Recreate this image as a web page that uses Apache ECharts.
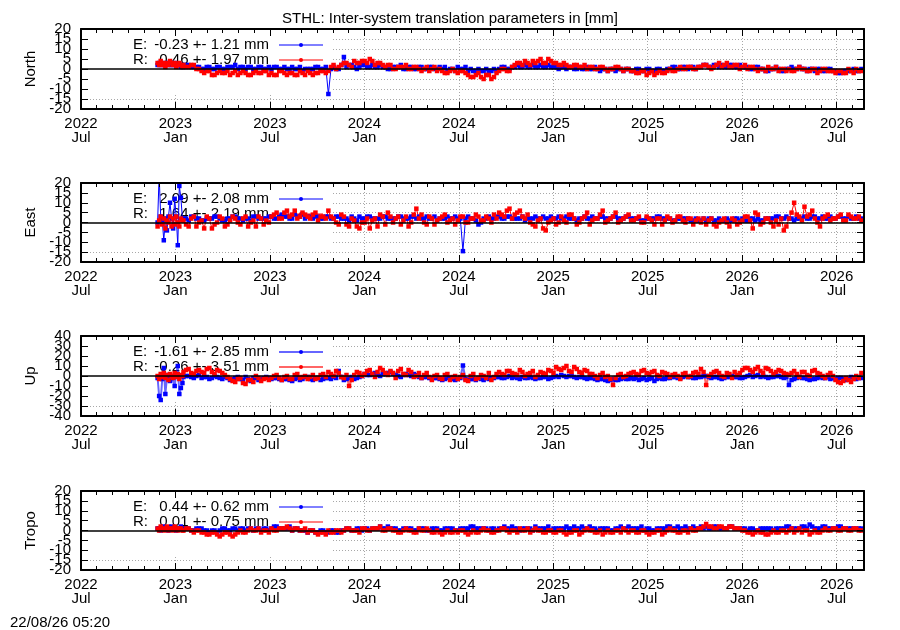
<!DOCTYPE html>
<html><head><meta charset="utf-8">
<script src="https://cdn.jsdelivr.net/npm/echarts@6/dist/echarts.min.js"></script>
<style>html,body{margin:0;padding:0;background:#fff}#c{width:900px;height:630px}</style>
</head><body><div id="c"></div>
<script>
// ---------- text ----------
const titleText = 'STHL: Inter-system translation parameters in [mm]';
const stampText = '22/08/26 05:20';
const panelNames = ['North', 'East', 'Up', 'Tropo'];
const yMins = [-20, -20, -40, -20];
const yMaxs = [20, 20, 40, 20];
const yStep = [5, 5, 10, 5];
const legendE = ['-0.23 +- 1.21 mm', '2.09 +- 2.08 mm', '-1.61 +- 2.85 mm', '0.44 +- 0.62 mm'];
const legendR = ['0.46 +- 1.97 mm', '1.64 +- 2.19 mm', '-0.26 +- 3.51 mm', '0.01 +- 0.75 mm'];
const monthNames = ['Jan','Feb','Mar','Apr','May','Jun','Jul','Aug','Sep','Oct','Nov','Dec'];

// x axis: days since 2022-07-01; ticks every half year
const xMinDay = 0;
const xMaxDay = 1513;      // 2026-08-22
const xTickDays = 182.5;
// sampling: dense start (every 3 days from 2022-11-26), then main samples every 10 days
// starting at day 198, plus "mid" samples 5 days after each main sample
const earlyStartDay = 148, earlyStepDays = 3;
const mainStartDay = 198, mainStepDays = 10, midOffsetDays = 5;

// ---------- values (mm) ----------
const northE_early = [2,3,2,3,2,2,3,2,3,2,2,3,2,2,2,1,2];
const northE = [1,2,1,1, 0,1,0,1,0,1,2,1,0,1,0,1,0, 0,1,0,0,1,0,-1,0,0,1,0, -12.5,1,0,6,2,1,1, 2,1,1,2,
  1,0,1,2,0,1,0,1,0,1,0, 0,-1,0,1,0, -1,-1,0,-1,-1,0, 0,1,0, 1,1,2,1,1,2,1,1, 1,1,0,1,0,0,1,0,
  0,0,-1,0,0,-1,0, -1,0,-1,0,-1,0,-1, 0,1,0,1,1,0, 1,2,1,2,2,1,2,1,1, 1,0,1,0,-1,0,0,-1,
  0,0,1,0,0,-1,0,-1,0, -1,-2,-1,-1,-1,0];
const northE_mid = [2,1,1,0, 1,0,1,0,1,1,0,1,1,0,1,0,1, 1,0,1,0,0,1,0,0,1,0,1, 0,0,2,1,2,0,2, 1,2,1,1,
  0,1,1,0,1,0,1,0,1,0,1, 1,0,-1,0,1, 0,-1,-1,0,-1,-1, 1,0,1, 2,1,1,2,1,1,2,1, 0,1,1,0,1,0,0,1,
  -1,0,0,-1,0,0,-1, 0,-1,0,-1,0,-1,0, 1,0,1,0,1,1, 2,1,2,1,1,2,1,2,1, 0,1,0,-1,0,1,-1,0,
  1,0,0,-1,0,0,-1,0,-1, -2,-1,-1,0,-1];
const northR_early = [3,2,4,2,3,1,3,2,4,3,2,3,1,2,3,2,1];
const northR = [2,1,2,0, -2,-1,-3,-1,-2,-3,-1,-2,-2,-3,-1,-2,-1, -2,-3,-1,-3,-2,-3,-2,-1,-3,-2,-1, -1,2,1,3,2,4,3, 4,5,2,3,
  1,2,0,1,2,0,1,-1,1,0,-1, -1,-2,0,-2,-1, -3,-4,-2,-5,-3,-4, -1,0,-1, 2,3,4,2,3,5,3,4, 3,2,2,1,2,1,0,1,
  0,1,-1,0,1,-1,0, -1,-2,-1,-2,-3,-1,-2, 0,-1,1,0,1,0, 1,2,0,2,1,3,1,2,1, 0,1,-1,0,1,0,-1,0,
  0,-1,1,0,-1,0,-1,0,-1, -2,-1,-2,-1,0,-1];
const northR_mid = [1,2,0,-1, -1,-3,-2,-2,-1,-2,-3,-1,-3,-2,-2,-1,-3, -3,-1,-2,-2,-3,-1,-3,-2,-2,-1,-2, 1,0,2,3,1,3,4, 3,4,3,2,
  2,0,1,1,0,1,0,0,-1,1,0, -2,-1,-1,-1,-2, -4,-3,-4,-3,-5,-2, 0,-1,1, 3,2,3,4,4,3,5,3, 2,3,1,2,1,2,1,0,
  1,0,0,1,0,0,-1, -2,-1,-3,-1,-2,-2,-1, -1,0,0,1,0,1, 2,1,1,3,2,1,2,0,2, 1,0,0,-1,0,1,0,-1,
  -1,0,0,-1,0,-2,0,-1,-1, -1,-2,0,-2,-1];

const eastE_early = [0,24,3,1,-9,2,-4,3,10,2,-3,12,3,-11.5,18.5,12.5,2];
const eastE = [2,1,3,2,1,2,3,2,1,2,3,2,2,1,3,2,2, 3,2,4,3,2,3,4,3,2,3,2, 3,2,3,2,1,2,3,2,3,2,2,3,2,
  2,3,2,3,2,2,3,2,1,2,3,2, 2,-14.5,3,2,-1,2,3,2, 3,2,3,2,2,1,2,3,2,2, 3,2,2,3,2,1,2,2,3,2,
  3,2,3,2,2,3,2,2,1,2, 2,3,2,2,1,2,2,1,2,1, 1,2,1,1,2,1,2,2,1,2, 2,1,2,2,3,2,2,1,2,3,
  2,3,2,2,3,2,3,2,2,3,2];
const eastE_mid = [2,3,2,1,2,2,3,1,2,3,2,1,2,3,2,2,3, 2,3,3,2,4,3,2,3,3,2,3, 2,3,2,2,3,1,2,3,2,2,3,2,2,
  3,2,2,3,3,2,2,3,2,2,2,3, 2,2,2,1,0,2,2,3, 2,3,2,2,3,2,2,2,3,2, 2,3,2,2,2,2,3,2,2,3,
  2,2,3,2,3,2,2,1,2,2, 3,2,2,1,2,2,2,1,1,2, 2,1,2,1,1,2,1,1,2,1, 1,2,2,3,2,3,2,2,2,2,
  3,2,3,2,2,3,2,3,2,2];
const eastR_early = [-2,1,3,-1,2,-3,1,0,3,-2,2,-1,3,0,-2,2,1];
const eastR = [1,-2,3,0,-3,2,-1,3,-2,1,2,-1,3,0,-2,2,1, 3,5,2,6,4,2,5,3,4,1,3, 6,2,-1,3,-2,1,-3, 0,-3,2,4,-1,3,
  2,-1,3,0,7,4,-1,2,1,3,0,2, 1,3,0,2,3,1,2,4, 5,3,7,4,6,2, 0,-2,2,-4,1,-1, 3,0,4,-1,2,5,1,
  2,6,1,3,0,2,4, 1,3,0,2,-1,2,1, 2,1,3,0,2,1, 0,-1,2,-2,1,0,2,-1,1, 3,-3,4,0,2,-2,
  -1,-4,2,10,3,8,4,2,-2,3,1, 2,4,1,3,2,1];
const eastR_mid = [-1,2,-2,1,3,-3,0,2,-1,3,0,2,-2,1,3,-1,0, 4,2,5,3,6,3,4,2,5,3,2, 3,0,4,-1,2,-2,0, 2,1,-2,3,5,0,
  3,1,-2,4,2,0,3,-1,2,4,1,-1, 3,0,2,4,1,3,0,2, 4,6,2,5,3,4, -1,1,-3,0,2,0, 1,4,2,0,3,-1,2,
  4,0,2,5,1,3,1, 2,0,3,1,2,-1,3, 0,3,1,2,-1,2, 2,1,-1,0,2,-2,1,0,3, 1,5,-1,2,0,1,
  2,-2,5,4,1,3,6,0,2,4,2, 3,1,4,2,3];

const upE_early = [-2,-20,-24,-3,8,-18,-2,1,-5,0,-2,-10,2,10,-18,-12,-7];
const upE = [-1,0,-2,1,-1,-3,0,-2,-1,-4,-2,-3,-1,-5,-2,-3,-1, -3,-2,-4,-3,-5,-2,-3,-1,-4,-2,-3, -2,-1,5,-4,-2,-3,-1,
  2,1,3,0,2,4,1,-1,2,0,1, -2,-1,-3,-2,-4,-2,-3, -3,10.5,-4,-3,-2,-4,-3,-2, -1,-2,0,-1,-3,-2,-1,-3,-2,-1,-2,
  0,1,-1,0,-2,-1,-3, -2,-4,-3,-5,-3,-4,-2,-3, -3,-4,-2,-3,-5,-2,-3, -2,-1,-2,0,-1,-2,
  -1,0,-2,-1,-3,-1,0,-1,-2, 0,-1,1,0,-2,-1,0,-2, -9,-3,-1,-2,-4,-3,-1,-2,-3, -3,-2,-4,-1,-3,-2];
const upE_mid = [0,-1,0,-2,-1,-2,-1,-3,-2,-3,-1,-4,-3,-2,-4,-2,-2, -2,-3,-3,-4,-3,-4,-1,-3,-2,-4,-2, -3,-2,-1,-3,-1,-2,0,
  1,2,1,2,3,2,0,1,1,2,-1, -1,-2,-2,-3,-3,-2,-4, -2,-3,-3,-4,-3,-2,-2,-1, -2,-1,-2,-2,-1,-2,-2,-2,-1,-3,-1,
  -1,0,0,-1,-1,-2,-2, -3,-3,-4,-4,-4,-3,-3,-2, -2,-3,-4,-2,-3,-3,-2, -1,-2,-1,-1,-2,-1,
  0,-1,-1,-2,-2,-1,-1,-2,-1, 1,0,-1,-1,-1,0,-1,-1, -4,-2,-2,-3,-3,-2,-2,-1,-2, -2,-3,-3,-2,-2];
const upR_early = [0,-3,2,-1,3,-2,1,-4,2,0,-2,3,-1,2,-3,1,0];
const upR = [4,7,2,6,3,8,2,5,1,-3,-6,-2,-8,-4,0,-5,-2, -2,1,-4,0,-3,2,-1,-3,1,-2,2, 4,0,3,-2,-10,1,3,
  2,6,-1,8,3,5,-2,7,1,4,0, -2,3,-4,1,-3,2,-1, -3,1,-5,2,-2,0,3,-1, 4,1,5,2,6,0,3,-1,4,2,5,
  9,6,10,4,7,3,5, 2,-2,3,0,-9,1,-1,2, 4,1,6,2,5,0,3, -1,2,-3,3,0,4,
  7,-9,2,5,0,3,-2,1,6, 8,4,9,3,7,2,6,3, 1,5,-1,4,0,6,2,-2,3, -4,-7,-2,-6,0,3];
const upR_mid = [6,3,5,4,7,4,6,3,-1,-5,-3,-7,-4,-6,-2,-3,-4, 0,-2,-1,-3,1,-2,0,-1,-3,1,-1, 2,5,-1,1,-4,4,0,
  5,2,4,6,1,3,5,2,6,-1,3, 1,-1,0,-2,1,-4,0, -1,-4,0,-3,1,-2,-4,2, 2,5,3,1,4,2,5,1,3,6,3,
  7,8,5,9,4,6,2, 0,1,-1,-3,-2,2,0,3, 2,5,3,4,1,4,2, 1,0,2,-1,3,2,
  4,0,4,3,-1,2,4,3,8, 6,7,5,8,5,4,5,2, 3,2,4,1,5,3,0,1,0, -6,-5,-4,-3,-2];

const tropoE_early = [1,1,0,1,2,1,1,0,1,2,1,1,0,1,1,2,1];
const tropoE = [1,1,0,1,0,-1,0,0,1,0,1,1,0,1,1,0,1, 1,2,1,1,0,1,0,-1,0,-1,0, -1,0,-1,0,1,0,1,1,0,1,2,1,1,
  1,0,1,1,0,1,0,1,1,0,1,1,0,1,1,2,1,1,0,1, 1,2,1,1,0,1,1,2,1,1,0,1,1,2,1,1,2,1,1,0,
  1,1,0,1,1,2,1,1,0,1,0,1,1,2,1,1,2,1,1,2, 2,1,2,1,1,2,1,1,0,1,0,1,1,0,1,1,2,1,1,2,
  3,1,1,2,1,1,2,1,1,1,1];
const tropoE_mid = [1,0,1,1,0,0,-1,1,0,1,0,1,1,0,1,1,0, 2,1,1,2,1,0,0,0,-1,0,-1, 0,-1,0,1,0,1,0,1,1,1,1,2,1,
  0,1,1,0,1,1,0,1,0,1,1,0,1,1,2,1,1,1,1,0, 1,1,2,1,1,1,0,1,1,2,1,1,1,1,2,1,1,2,1,1,
  1,0,1,2,1,1,1,2,1,0,1,1,2,1,2,1,1,2,1,1, 1,2,1,1,2,1,1,1,1,0,1,1,1,1,1,2,1,1,2,1,
  2,1,2,1,1,2,1,1,1,1];
const tropoR_early = [1,0,2,1,0,1,2,0,1,1,0,2,1,0,1,1,0];
const tropoR = [0,1,-1,0, -1,-2,-1,-3,-1,-2,-2, 0,-1,1,0,-1,0, 1,0,1,2,0,1,0, -1,0,-2,-1,0,-1,0,
  0,1,0,-1,1,0,1,2,0,1, 0,-1,1,0,-1,0,1,-1,0,-2,0,-1, -1,0,-2,0,-1,1,0,-1, 0,1,-1,0,1,0,-1,1,0,-1,0,
  -1,0,-2,-1,0,-1,1,0,-1,-2,0,-1,0,1,-1, 0,-1,0,-2,-1,0,-1,1,0,-1,0,1,0,
  1,3.3,2,1,2,1,2,1,0, -1,-2,0,-1,-2,0,-1,0, 0,-1,1,0,-2,0,-1,1,0, 1,0,1,0,1,0];
const tropoR_mid = [1,0,0,-1, -2,-1,-2,-2,-1,-3,-1, -1,0,0,1,0,-1, 0,1,1,1,1,0,1, 0,-1,-1,-2,-1,0,-1,
  1,0,0,1,0,1,1,0,1,0, -1,0,0,-1,1,0,0,-1,-1,-1,-1,0, 0,-1,-1,-1,0,0,-1,0, 1,0,0,-1,0,1,0,0,-1,0,-1,
  0,-1,-1,0,-2,0,0,-1,0,-1,-1,0,-1,0,0, -1,0,-1,-1,0,-2,0,0,-1,0,-1,0,1,
  2,2,1,2,1,2,1,1,0, -1,-1,-1,-2,-1,-1,0,-1, 1,0,-1,0,-1,-1,0,0,1, 0,1,0,1,0];

const seriesE = [[northE_early, northE, northE_mid], [eastE_early, eastE, eastE_mid], [upE_early, upE, upE_mid], [tropoE_early, tropoE, tropoE_mid]];
const seriesR = [[northR_early, northR, northR_mid], [eastR_early, eastR, eastR_mid], [upR_early, upR, upR_mid], [tropoR_early, tropoR, tropoR_mid]];

// ---------- build ----------
function pairs(early, main, mid) {
  const out = [];
  early.forEach((v, k) => out.push([earlyStartDay + earlyStepDays * k, v]));
  main.forEach((v, j) => {
    out.push([mainStartDay + mainStepDays * j, v]);
    if (j < mid.length) out.push([mainStartDay + mainStepDays * j + midOffsetDays, mid[j]]);
  });
  return out;
}
const FONT = 'Liberation Sans';
const BLUE = '#0000ff', RED = '#ff0000';
const gridTops = [29, 183, 336, 491];
const gridHeights = [80, 79, 80, 79];
const gridLeft = 81, gridWidth = 783;
const NX = 3, NY = 4; // axes per grid
// line look per panel (the Up panel uses softer, wider connecting lines)
const lineWidths = [1, 1, 2, 1];
const lineOpacity = [1, 1, 0.6, 1];

function xLabel(d) {
  const r = d / xTickDays;
  if (Math.abs(r - Math.round(r)) > 0.01) return '';
  const dt = new Date(Date.UTC(2022, 6, 1) + (d + 15) * 864e5);
  return dt.getUTCFullYear() + '\n' + monthNames[dt.getUTCMonth()];
}

const grids = [], xAxes = [], yAxes = [], series = [], graphics = [];
const gridLineStyle = { color: '#a8a8a8', width: 1, type: [1, 2] };
const labelStyle = { fontSize: 15, fontFamily: FONT, color: '#000', margin: 10 };

for (let i = 0; i < 4; i++) {
  grids.push({ left: gridLeft, top: gridTops[i], width: gridWidth, height: gridHeights[i], containLabel: false });
  const xBase = { type: 'value', gridIndex: i, min: xMinDay, max: xMaxDay, interval: xTickDays };
  const tick = { show: true, inside: true, length: 7, lineStyle: { color: '#000', width: 1 } };
  const minor = { show: true, splitNumber: 6, length: 4, lineStyle: { color: '#000', width: 1 } };
  const aLine = { show: true, onZero: false, lineStyle: { color: '#000', width: 2 } };
  const off = { show: false };
  xAxes.push(Object.assign({}, xBase, { position: 'bottom', z: 3, axisLine: aLine, axisTick: tick, minorTick: minor,
    axisLabel: { formatter: xLabel, fontSize: 15, fontFamily: FONT, color: '#000', lineHeight: 14, margin: 8, showMaxLabel: false },
    splitLine: off }));
  xAxes.push(Object.assign({}, xBase, { position: 'top', z: 3, axisLine: aLine, axisTick: tick, minorTick: minor,
    axisLabel: off, splitLine: off }));
  xAxes.push(Object.assign({}, xBase, { position: 'bottom', z: 0, axisLine: off, axisTick: off,
    axisLabel: off, splitLine: { show: true, lineStyle: gridLineStyle } }));

  const yBase = { type: 'value', gridIndex: i, min: yMins[i], max: yMaxs[i], interval: yStep[i] };
  const twoSteps = 2 * yStep[i];
  // left axis: frame, ticks, name, and every second tick label (incl. ends)
  yAxes.push(Object.assign({}, yBase, { position: 'left', z: 3, axisLine: aLine, axisTick: tick,
    axisLabel: Object.assign({}, labelStyle, { showMinLabel: true, showMaxLabel: true,
      formatter: v => (Math.abs(v % twoSteps) < 1e-9 ? String(v) : '') }),
    name: panelNames[i], nameLocation: 'middle', nameGap: 41,
    nameTextStyle: { fontSize: 15, fontFamily: FONT, color: '#000' }, splitLine: off }));
  // label-only axis for the remaining tick labels
  yAxes.push(Object.assign({}, yBase, { position: 'left', z: 3, axisLine: off, axisTick: off,
    axisLabel: Object.assign({}, labelStyle, { showMinLabel: false, showMaxLabel: false,
      formatter: v => (Math.abs(v % twoSteps) < 1e-9 ? '' : String(v)) }),
    splitLine: off }));
  yAxes.push(Object.assign({}, yBase, { position: 'right', z: 3, axisLine: aLine, axisTick: tick,
    axisLabel: off, splitLine: off }));
  yAxes.push(Object.assign({}, yBase, { position: 'left', z: 0, axisLine: off, axisTick: off,
    axisLabel: off, splitLine: { show: true, lineStyle: gridLineStyle } }));

  const mk = (name, color, d) => ({
    type: 'line', name, xAxisIndex: NX * i, yAxisIndex: NY * i, data: pairs(d[0], d[1], d[2]),
    symbol: 'rect', symbolSize: 4.5, showSymbol: true, clip: true, z: 2,
    lineStyle: { color, width: lineWidths[i], opacity: lineOpacity[i] }, itemStyle: { color }, emphasis: { disabled: true }
  });
  series.push(mk('E' + i, BLUE, seriesE[i]));
  series.push(mk('R' + i, RED, seriesR[i]));
  series.push({ type: 'line', name: 'zero' + i, xAxisIndex: NX * i, yAxisIndex: NY * i, data: [], z: 3,
    markLine: { silent: true, symbol: 'none', animation: false, label: { show: false },
      lineStyle: { color: '#000', width: 1.5, type: 'solid' }, data: [{ yAxis: 0 }] } });

  // key box and entries
  const t = gridTops[i];
  graphics.push({ type: 'rect', z: 1, shape: { x: gridLeft + 1, y: t + 1, width: 250, height: 64 }, style: { fill: '#fff' } });
  [[legendE[i], BLUE, 'E:', t + 16], [legendR[i], RED, 'R:', t + 31]].forEach(([txt, col, lab, yy]) => {
    graphics.push({ type: 'text', z: 1, x: 133, y: yy, style: { text: lab, font: '15px ' + FONT, fill: '#000', align: 'left', verticalAlign: 'middle' } });
    graphics.push({ type: 'text', z: 1, x: 269, y: yy, style: { text: txt, font: '15px ' + FONT, fill: '#000', align: 'right', verticalAlign: 'middle' } });
    graphics.push({ type: 'line', z: 1, shape: { x1: 279, y1: yy, x2: 323, y2: yy }, style: { stroke: col, lineWidth: lineWidths[i], opacity: lineOpacity[i] } });
    graphics.push({ type: 'circle', z: 1, shape: { cx: 301, cy: yy, r: 2 }, style: { fill: col } });
  });
}
graphics.push({ type: 'text', z: 1, x: 10, y: 623, style: { text: stampText, font: '15px ' + FONT, fill: '#000', align: 'left', verticalAlign: 'middle' } });

const chart = echarts.init(document.getElementById('c'), null, { renderer: 'canvas' });
chart.setOption({
  animation: false,
  backgroundColor: '#fff',
  title: { text: titleText, left: 'center', top: 6, textStyle: { fontSize: 15, fontWeight: 'normal', color: '#000', fontFamily: FONT } },
  grid: grids, xAxis: xAxes, yAxis: yAxes, series, graphic: graphics
});
</script></body></html>
